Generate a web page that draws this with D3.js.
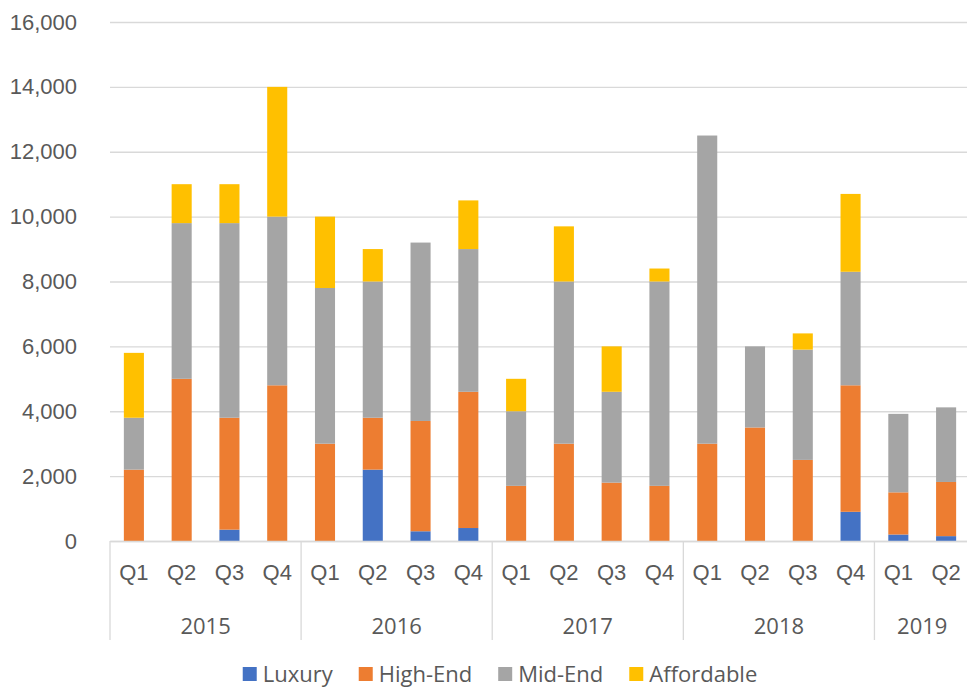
<!DOCTYPE html>
<html>
<head>
<meta charset="utf-8">
<script src="https://cdn.jsdelivr.net/npm/d3@7"></script>
<style>
  body { margin: 0; background: #fff; }
  svg { display: block; font-family: "Open Sans", "Noto Sans", sans-serif; }
  .lbl { fill: #595959; font-size: 22px; }
</style>
</head>
<body>
<svg width="967" height="687"></svg>
<script>
// Chart data
var quarters = ["Q1","Q2","Q3","Q4","Q1","Q2","Q3","Q4","Q1","Q2","Q3","Q4","Q1","Q2","Q3","Q4","Q1","Q2"];
var years = ["2015","2016","2017","2018","2019"];
var quartersPerYear = [4, 4, 4, 4, 2];
var seriesNames = ["Luxury", "High-End", "Mid-End", "Affordable"];
var luxury     = [0, 0, 350, 0,     0, 2200, 300, 400,   0, 0, 0, 0,        0, 0, 0, 900,       200, 150];
var highEnd    = [2200, 5000, 3450, 4800, 3000, 1600, 3400, 4200, 1700, 3000, 1800, 1700, 3000, 3500, 2500, 3900, 1300, 1670];
var midEnd     = [1600, 4800, 6000, 5200, 4800, 4200, 5500, 4400, 2300, 5000, 2800, 6300, 9500, 2500, 3400, 3500, 2420, 2300];
var affordable = [2000, 1200, 1200, 4000, 2200, 1000, 0, 1500, 1000, 1700, 1400, 400, 0, 0, 500, 2400, 0, 0];
var yTicks = [0, 2000, 4000, 6000, 8000, 10000, 12000, 14000, 16000];
var colors = ["#4472C4", "#ED7D31", "#A5A5A5", "#FFC000"];

var svg = d3.select('svg');

// Layout
var plot = {l: 110, r: 970, t: 22, b: 541};

// Build rows for the stack
var rows = quarters.map(function(q, i) {
    return {idx: i, "Luxury": luxury[i], "High-End": highEnd[i], "Mid-End": midEnd[i], "Affordable": affordable[i]};
});
var stacked = d3.stack().keys(seriesNames)(rows);

var xScale = d3.scaleBand()
    .domain(d3.range(quarters.length))
    .range([plot.l, plot.r])
    .paddingInner(0.58)
    .paddingOuter(0.29);
var yScale = d3.scaleLinear()
    .domain([0, 16000])
    .range([plot.b, plot.t]);
var colorScale = d3.scaleOrdinal().domain(seriesNames).range(colors);

// Gridlines
var gridG = svg.append('g')
    .attr('transform', 'translate(' + [plot.l, 0] + ')')
    .call(d3.axisLeft(yScale).tickValues(yTicks).tickSize(-(plot.r - plot.l)).tickFormat(''));
gridG.select('.domain').remove();
gridG.selectAll('line').attr('stroke', '#d9d9d9').attr('stroke-width', 1.3);

// Y labels
var yAxisG = svg.append('g')
    .attr('transform', 'translate(' + [plot.l, 0] + ')')
    .call(d3.axisLeft(yScale).tickValues(yTicks).tickSize(0).tickPadding(33).tickFormat(d3.format(',')));
yAxisG.select('.domain').remove();
yAxisG.selectAll('text').attr('class', 'lbl').attr('font-family', null).attr('font-size', null);

// Bars
var layerG = svg.selectAll('.layer')
    .data(stacked)
    .enter().append('g')
    .attr('class', 'layer')
    .attr('fill', function(d) { return colorScale(d.key); });

layerG.selectAll('rect')
    .data(function(d) { return d; })
    .enter().append('rect')
    .attr('x', function(d) { return xScale(d.data.idx); })
    .attr('width', xScale.bandwidth())
    .attr('y', function(d) { return yScale(d[1]); })
    .attr('height', function(d) { return yScale(d[0]) - yScale(d[1]); });

// X axis (quarters)
var xAxisG = svg.append('g')
    .attr('transform', 'translate(' + [0, plot.b] + ')')
    .call(d3.axisBottom(xScale).tickSize(0).tickPadding(23).tickFormat(function(i) { return quarters[i]; }));
xAxisG.select('.domain').attr('stroke', '#d9d9d9').attr('stroke-width', 1.3);
xAxisG.selectAll('text').attr('class', 'lbl').attr('font-family', null).attr('font-size', null);

// Year groups
var step = xScale.step();
var starts = [];
quartersPerYear.reduce(function(acc, n) { starts.push(acc); return acc + n; }, 0);
var sepG = svg.append('g');
starts.concat([quarters.length]).forEach(function(s) {
    var xp = plot.l + s * step;
    sepG.append('line')
        .attr('x1', xp).attr('x2', xp)
        .attr('y1', plot.b).attr('y2', 640)
        .attr('stroke', '#d9d9d9').attr('stroke-width', 1.3);
});
svg.selectAll('.year')
    .data(years)
    .enter().append('text')
    .attr('class', 'lbl year')
    .attr('text-anchor', 'middle')
    .attr('x', function(d, i) { return plot.l + (starts[i] + quartersPerYear[i] / 2) * step; })
    .attr('y', 634)
    .text(function(d) { return d; });

// Legend
var legendG = svg.append('g').attr('transform', 'translate(0,674)');
var items = legendG.selectAll('.item')
    .data(seriesNames)
    .enter().append('g')
    .attr('class', 'item');
items.append('rect')
    .attr('width', 14).attr('height', 14)
    .attr('y', -7)
    .attr('fill', function(d) { return colorScale(d); });
items.append('text')
    .attr('class', 'lbl')
    .attr('x', 20)
    .attr('y', 8)
    .text(function(d) { return d; });
var offs = [], pos = 0;
items.each(function() {
    offs.push(pos);
    pos += 20 + this.querySelector('text').getComputedTextLength() + 26;
});
var total = pos - 26;
var startX = 500 - total / 2;
items.attr('transform', function(d, i) { return 'translate(' + (startX + offs[i]) + ',0)'; });
</script>
</body>
</html>
